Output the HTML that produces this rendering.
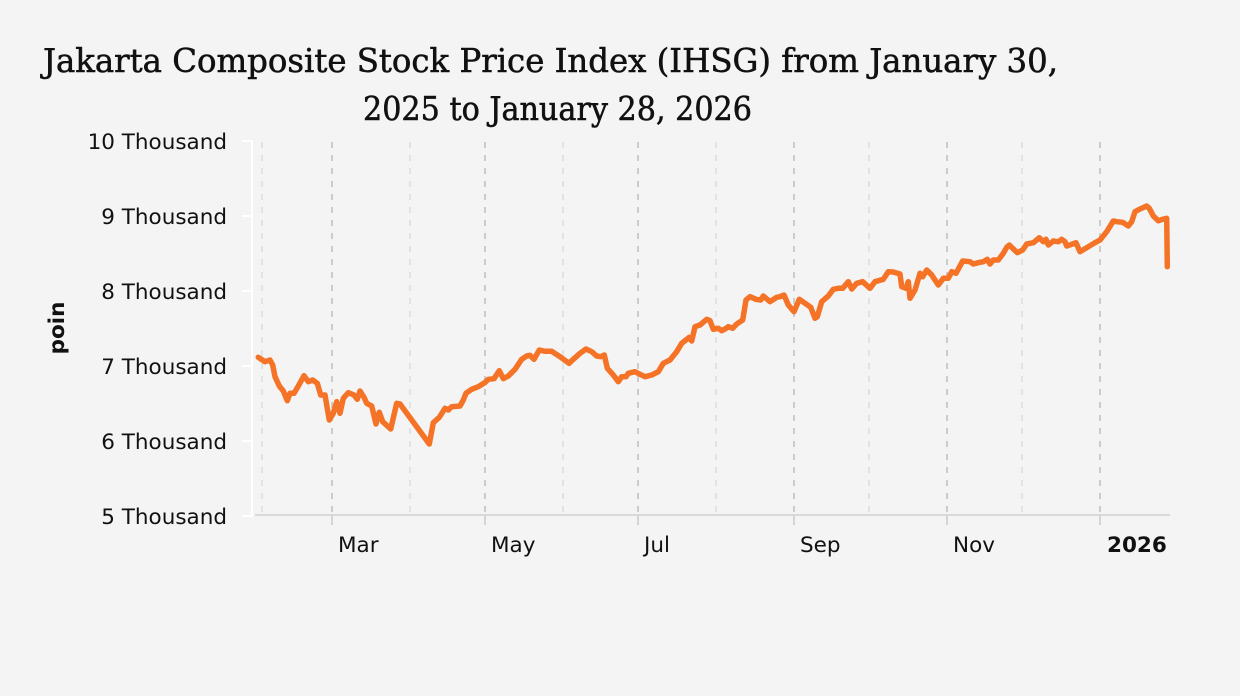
<!DOCTYPE html>
<html><head><meta charset="utf-8"><style>
html,body{margin:0;padding:0;background:#f4f4f4;}
svg{display:block;}
</style></head><body>
<svg width="1240" height="696" viewBox="0 0 1240 696" xmlns="http://www.w3.org/2000/svg">
<rect width="1240" height="696" fill="#f4f4f4"/>
<g font-family="'DejaVu Serif Condensed', 'DejaVu Serif', 'Liberation Serif', serif" font-size="33" fill="#111" stroke="#111" stroke-width="0.5">
<text x="43" y="72" textLength="1015" lengthAdjust="spacingAndGlyphs">Jakarta Composite Stock Price Index (IHSG) from January 30,</text>
<text x="363" y="120" textLength="389" lengthAdjust="spacingAndGlyphs">2025 to January 28, 2026</text>
</g>
<!-- minor gridlines -->
<g stroke="#e2e2e2" stroke-width="2" stroke-dasharray="6,7">
<line x1="262" y1="142" x2="262" y2="515"/>
<line x1="410" y1="142" x2="410" y2="515"/>
<line x1="563" y1="142" x2="563" y2="515"/>
<line x1="716" y1="142" x2="716" y2="515"/>
<line x1="869" y1="142" x2="869" y2="515"/>
<line x1="1022" y1="142" x2="1022" y2="515"/>
</g>
<!-- major gridlines -->
<g stroke="#cbcbcb" stroke-width="2" stroke-dasharray="6,7">
<line x1="332" y1="142" x2="332" y2="515"/>
<line x1="485" y1="142" x2="485" y2="515"/>
<line x1="638" y1="142" x2="638" y2="515"/>
<line x1="794" y1="142" x2="794" y2="515"/>
<line x1="947" y1="142" x2="947" y2="515"/>
<line x1="1100" y1="142" x2="1100" y2="515"/>
</g>
<!-- x axis -->
<line x1="255" y1="515" x2="1170" y2="515" stroke="#d9d9d9" stroke-width="2"/>
<g stroke="#d4d4d4" stroke-width="2">
<line x1="332" y1="515" x2="332" y2="525"/>
<line x1="485" y1="515" x2="485" y2="525"/>
<line x1="638" y1="515" x2="638" y2="525"/>
<line x1="794" y1="515" x2="794" y2="525"/>
<line x1="947" y1="515" x2="947" y2="525"/>
<line x1="1100" y1="515" x2="1100" y2="525"/>
</g>
<!-- y axis -->
<g stroke="#ffffff" stroke-width="2">
<line x1="252" y1="141" x2="252" y2="517"/>
<line x1="242" y1="141" x2="252" y2="141"/>
<line x1="242" y1="216" x2="252" y2="216"/>
<line x1="242" y1="291" x2="252" y2="291"/>
<line x1="242" y1="366" x2="252" y2="366"/>
<line x1="242" y1="441" x2="252" y2="441"/>
<line x1="242" y1="516" x2="252" y2="516"/>
</g>
<g font-family="'DejaVu Sans', 'Liberation Sans', sans-serif" font-size="21.5" fill="#111" text-anchor="end">
<text x="227" y="149">10 Thousand</text>
<text x="227" y="224">9 Thousand</text>
<text x="227" y="299">8 Thousand</text>
<text x="227" y="374">7 Thousand</text>
<text x="227" y="449">6 Thousand</text>
<text x="227" y="524">5 Thousand</text>
</g>
<g font-family="'DejaVu Sans', 'Liberation Sans', sans-serif" font-size="21.5" fill="#111">
<text x="338" y="552">Mar</text>
<text x="491" y="552">May</text>
<text x="644" y="552">Jul</text>
<text x="800" y="552">Sep</text>
<text x="953" y="552">Nov</text>
<text x="1107" y="552" font-weight="bold">2026</text>
</g>
<text transform="translate(64,328) rotate(-90)" text-anchor="middle" font-family="'DejaVu Sans', 'Liberation Sans', sans-serif" font-size="21.5" font-weight="bold" fill="#111">poin</text>
<!-- series -->
<polyline fill="none" stroke="#f47326" stroke-width="5.5" stroke-linejoin="round" stroke-linecap="round" points="
258.3,357.3 265,361.7 270,360 272.7,365 275,376.7 279.3,386 283.3,391 287.3,400.7 290,393.3 294,393.3 298.3,386 304,375.7 308.3,381.7 312.7,380 317.3,383.3 320.7,395 325,395 329.3,420 333.3,413.3 336.7,401.7 340,413.3 343.3,398.3 348.3,392.7 354,395 357.3,399.3 360,391 364,397.3 366.7,403.3 371.7,406 376,424 379.3,412.3 382.7,421.7 390.7,429 396.7,403.3 400,404 429.3,444 433.3,422.7 439.3,417.3 445,408.3 448.3,410 451.7,406.7 460,406 463.3,400 466,393.3 471.7,389.3 478.3,386.7 485,382.5 488.3,379.3 494,378.7 499.3,370.7 503.3,378.7 508.3,376 515,369.3 521.7,359.3 526.7,356 530,355.3 534,359.3 539.3,350 545,351.3 551.7,351.3 560,356.7 569,363.3 573.3,359.3 580,353.3 586,349 591.7,351.7 596.7,356 600.7,356.7 604.3,355 607.3,368.3 613.3,375 618.3,381.7 621.7,376.7 626,376.7 628.3,373.3 635,371.7 640,374.3 645,376.7 651.7,375 658.3,371.7 663.3,363.3 670,360 676.7,351.7 681.7,343.3 689.3,337.3 691.7,341 695,326.7 700,325 706.7,319.3 710,320.7 713.3,329.3 718.3,328.3 721.7,330.7 725,329 728.3,326.7 732.7,328.3 736.7,324 742.7,320 746,300 750,296.7 756,299.3 760.7,300 763.3,296 770,301.7 776.7,297.3 780,296.7 784,295 788.3,305 794,311.7 799.3,299.3 805,303.3 810.7,307.3 815,318.3 817.3,316.7 821.7,301.7 828.3,296 833.3,289.3 838.3,288.3 842.7,288.3 848.3,281.7 851.7,289 856.7,283.3 862.7,281.7 870,288.3 875,281.7 883.3,279.3 888.3,271.7 893.3,272 900,274 901.7,286.7 906,288.3 908.3,281.7 910,298.3 915,290 920,273.3 922.7,276.7 926.7,270 931.7,275 938.3,285 943.3,278.3 948.3,278.3 951.7,271.7 956,273.3 962.7,261 970,261.7 973.3,264 978.3,262.7 983.3,261.7 987.3,259.3 990,264 993.3,260 998.3,260 1003.3,253.3 1006.7,247.3 1009.3,245 1012.7,248.3 1017.3,252.7 1022.7,250 1026.7,244 1033.3,242.7 1039.3,237.7 1043.3,241.7 1046,239.3 1048.3,245 1053.3,241 1058.3,241.7 1061.7,239.3 1065,241.7 1066.7,246 1071.7,244.3 1076,242.7 1080,251.7 1086.7,247.7 1095,242.7 1100,240 1106.7,231.7 1113.3,221 1116.7,221.7 1122.7,222.3 1128.3,226 1131.7,221.7 1135,211.7 1140,209 1146.7,206 1149.3,208.3 1153.3,216 1158.3,220.7 1162.7,219.3 1166.7,218.3 1167.3,266.7"/>
</svg>
</body></html>
